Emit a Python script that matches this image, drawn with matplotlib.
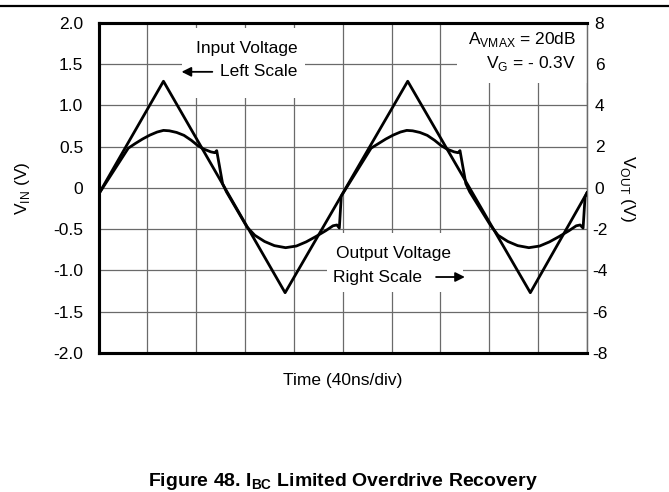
import matplotlib
matplotlib.use("Agg")
from matplotlib import pyplot as plt
from matplotlib.patches import Rectangle
from matplotlib.lines import Line2D
import numpy as np

plt.rcParams['font.family'] = ['Liberation Sans', 'DejaVu Sans']
plt.rcParams['mathtext.fontset'] = 'custom'
plt.rcParams['mathtext.rm'] = 'Liberation Sans'
plt.rcParams['mathtext.bf'] = 'Liberation Sans:bold'

# Input voltage (triangle), time in divisions, left scale volts
t_in = [0.0, 1.33, 3.82, 6.33, 8.84, 10.0]
v_in = [-0.08, 1.29, -1.27, 1.29, -1.27, -0.06]

# Output voltage, time in divisions, right scale volts
t_out = [0.0, 0.61, 0.75, 0.90, 1.05, 1.20, 1.33, 1.45, 1.60, 1.75, 1.90,
         2.03, 2.15, 2.30, 2.38, 2.42, 2.54, 2.62,
         3.04, 3.20, 3.40, 3.60, 3.83, 4.05, 4.25, 4.45, 4.65, 4.80, 4.88,
         4.93, 4.97,
         5.58, 5.73, 5.88, 6.03, 6.18, 6.31, 6.43, 6.58, 6.73, 6.88,
         7.01, 7.13, 7.28, 7.36, 7.40, 7.52, 7.60,
         8.02, 8.18, 8.38, 8.58, 8.81, 9.03, 9.23, 9.43, 9.63, 9.78, 9.86,
         9.92, 9.96, 10.0]
v_out = [-0.32, 1.92, 2.14, 2.36, 2.55, 2.70, 2.78, 2.76, 2.68, 2.54, 2.30,
         2.05, 1.88, 1.74, 1.70, 1.80, 0.20, -0.20,
         -1.90, -2.30, -2.60, -2.80, -2.90, -2.82, -2.62, -2.36, -2.08, -1.84, -1.80,
         -1.95, -0.40,
         1.92, 2.14, 2.36, 2.55, 2.70, 2.78, 2.76, 2.68, 2.54, 2.30,
         2.05, 1.88, 1.74, 1.70, 1.80, 0.20, -0.20,
         -1.80, -2.30, -2.60, -2.80, -2.90, -2.82, -2.62, -2.36, -2.08, -1.84, -1.80,
         -1.95, -0.45, -0.24]

left_ticks = [2.0, 1.5, 1.0, 0.5, 0, -0.5, -1.0, -1.5, -2.0]
left_labels = ["2.0", "1.5", "1.0", "0.5", "0", "-0.5", "-1.0", "-1.5", "-2.0"]
right_ticks = [8, 6, 4, 2, 0, -2, -4, -6, -8]
right_labels = ["8", "6", "4", "2", "0", "-2", "-4", "-6", "-8"]

fig = plt.figure(figsize=(6.69, 4.92), dpi=100)
ax = fig.add_axes([98.5 / 669, 1 - 353 / 492, 488.5 / 669, 330.4 / 492])
ax2 = ax.twinx()

ax.set_xlim(0, 10)
ax.set_ylim(-2, 2)
ax2.set_ylim(-8, 8)
ax.set_xticks(np.arange(0, 11, 1))
ax.set_xticklabels([])
ax.set_yticks(left_ticks)
ax.set_yticklabels(left_labels)
ax2.set_yticks(right_ticks)
ax2.set_yticklabels(right_labels, ha='center')
ax.tick_params(axis='both', length=0, labelsize=12.5, pad=11)
ax2.tick_params(axis='y', length=0, labelsize=12.5, pad=9)
ax.grid(True, color='#6a6a6a', linewidth=0.9)
ax.set_axisbelow(True)

for a in (ax, ax2):
    for side in ('top', 'bottom', 'left'):
        a.spines[side].set_linewidth(2.2)
    a.spines['right'].set_linewidth(0.9)
    a.spines['right'].set_color('#6a6a6a')

# white boxes behind the annotations
for (x0, y0, w, h) in [(0.171, 0.772, 0.252, 0.212),
                       (0.734, 0.817, 0.266, 0.177),
                       (0.468, 0.185, 0.278, 0.178)]:
    ax.add_patch(Rectangle((x0, y0), w, h, transform=ax.transAxes,
                           facecolor='white', edgecolor='none', zorder=1.5))

ax.plot(t_in, v_in, color='black', linewidth=2.0, zorder=3)
ax2.plot(t_out, v_out, color='black', linewidth=2.0, zorder=3,
         solid_joinstyle='round')

ax.text(0.303, 0.923, "Input Voltage", transform=ax.transAxes, fontsize=12.5,
        ha='center', va='center', zorder=4)
ax.text(0.249, 0.851, "Left Scale", transform=ax.transAxes, fontsize=12.5,
        ha='left', va='center', zorder=4)
ax.annotate("", xy=(0.170, 0.851), xytext=(0.233, 0.851), xycoords='axes fraction',
            arrowprops=dict(arrowstyle='-|>', color='black', lw=1.3,
                            mutation_scale=14, shrinkA=0, shrinkB=0), zorder=4)

ax.text(0.603, 0.302, "Output Voltage", transform=ax.transAxes, fontsize=12.5,
        ha='center', va='center', zorder=4)
ax.text(0.480, 0.230, "Right Scale", transform=ax.transAxes, fontsize=12.5,
        ha='left', va='center', zorder=4)
ax.annotate("", xy=(0.750, 0.230), xytext=(0.691, 0.230), xycoords='axes fraction',
            arrowprops=dict(arrowstyle='-|>', color='black', lw=1.3,
                            mutation_scale=14, shrinkA=0, shrinkB=0), zorder=4)

ax.text(0.977, 0.950, r"A$_{\mathrm{VMAX}}$ = 20dB", transform=ax.transAxes,
        fontsize=12.5, ha='right', va='center', zorder=4)
ax.text(0.977, 0.877, r"V$_{\mathrm{G}}$ = - 0.3V", transform=ax.transAxes,
        fontsize=12.5, ha='right', va='center', zorder=4)

fig.text(23 / 669, 1 - 188 / 492, r"V$_{\mathrm{IN}}$ (V)", rotation=90,
         fontsize=12.5, ha='center', va='center')
fig.text(627 / 669, 1 - 188 / 492, r"V$_{\mathrm{OUT}}$ (V)", rotation=-90,
         fontsize=12.5, ha='center', va='center')
fig.text(343 / 669, 1 - 381 / 492, "Time (40ns/div)", fontsize=12.5,
         ha='center', va='center')
fig.text(343 / 669, 1 - 471 / 492,
         r"Figure 48. I$_{\mathbf{BC}}$ Limited Overdrive Recovery",
         fontsize=14, fontweight='bold', ha='center', va='top')

# rule across the top of the page
fig.add_artist(Line2D([0, 1], [1 - 6 / 492, 1 - 6 / 492], color='black',
                      linewidth=1.6, transform=fig.transFigure))

fig.savefig("out.png", dpi=100)
